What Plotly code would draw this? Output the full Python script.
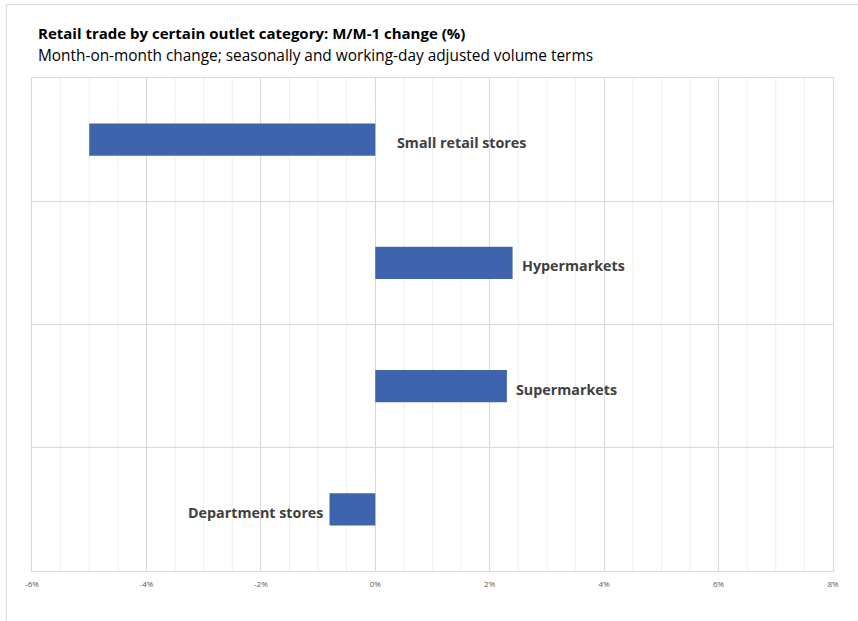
import plotly.graph_objects as go

categories = ["Small retail stores", "Hypermarkets", "Supermarkets", "Department stores"]
values = [-5.0, 2.4, 2.3, -0.8]
tick_vals = [-6, -4, -2, 0, 2, 4, 6, 8]
tick_text = ["-6%", "-4%", "-2%", "0%", "2%", "4%", "6%", "8%"]
minor_vals = [v / 2 for v in range(-12, 17)]

FONT = "'Open Sans', sans-serif"
BAR = "#3D64AD"

fig = go.Figure()
fig.add_trace(go.Bar(
    y=categories, x=values, orientation="h",
    marker=dict(color=BAR, line=dict(width=0)),
    width=0.26, hoverinfo="x+y",
))

# labels
for cat, v in zip(categories, values):
    if v >= 0:
        xpos, anchor, shift = v, "left", 7
    elif v < -2:
        xpos, anchor, shift = 0, "left", 20
    else:
        xpos, anchor, shift = v, "right", -5
    fig.add_annotation(x=xpos, y=cat, xref="x", yref="y", text=f"<b>{cat}</b>",
                       showarrow=False, xanchor=anchor, xshift=shift, yshift=-3,
                       font=dict(family=FONT, size=14.3, color="#404040"))

# minor gridlines
for m in minor_vals:
    if m not in tick_vals:
        fig.add_shape(type="line", xref="x", yref="paper", x0=m, x1=m, y0=0, y1=1,
                      line=dict(color="#EFEFEF", width=1), layer="below")

# outer chart border (top and left)
fig.add_shape(type="line", xref="paper", yref="paper", x0=-0.032, x1=1.1, y0=1.149, y1=1.149,
              line=dict(color="#D9D9D9", width=1))
fig.add_shape(type="line", xref="paper", yref="paper", x0=-0.032, x1=-0.032, y0=1.149, y1=-0.2,
              line=dict(color="#D9D9D9", width=1))

fig.add_annotation(xref="paper", yref="paper", x=0.005, y=1.0906, xanchor="left", yanchor="middle",
                   text="<b>Retail trade by certain outlet category: M/M-1 change (%)</b>",
                   showarrow=False, font=dict(family=FONT, size=15, color="#000000"))
fig.add_annotation(xref="paper", yref="paper", x=0.005, y=1.046, xanchor="left", yanchor="middle",
                   text="Month-on-month change; seasonally and working-day adjusted volume terms",
                   showarrow=False, font=dict(family=FONT, size=15.4, color="#000000"))

fig.update_layout(
    width=858, height=621,
    margin=dict(l=32, r=25, t=78, b=50),
    paper_bgcolor="white", plot_bgcolor="white",
    showlegend=False,
    font=dict(family=FONT),
    xaxis=dict(range=[-6, 8], tickvals=tick_vals, ticktext=tick_text,
               showgrid=True, gridcolor="#D9D9D9", gridwidth=1,
               zeroline=False, showline=True, linecolor="#D9D9D9", mirror=True,
               tickfont=dict(size=8, color="#595959"), ticks="", ticklabelstandoff=5),
    yaxis=dict(categoryorder="array", categoryarray=categories[::-1],
               tickson="boundaries", showgrid=True, gridcolor="#D9D9D9",
               showticklabels=False, showline=True, linecolor="#D9D9D9", mirror=True,
               zeroline=False, ticks=""),
    bargap=0.74,
)

fig.write_html("out.html")
